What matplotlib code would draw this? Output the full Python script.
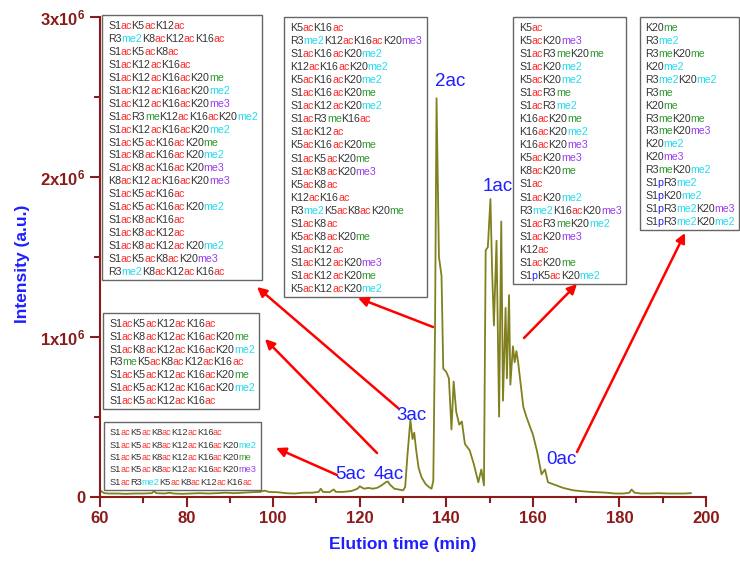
import re
import matplotlib
matplotlib.use('Agg')
import matplotlib.pyplot as plt
from matplotlib.patches import Rectangle
from matplotlib.ticker import MultipleLocator
from matplotlib.transforms import IdentityTransform

plt.rcParams['font.family'] = 'Liberation Sans'
plt.rcParams['mathtext.fontset'] = 'custom'
plt.rcParams['mathtext.rm'] = 'Liberation Sans:bold'
plt.rcParams['mathtext.it'] = 'Liberation Sans:bold'
plt.rcParams['mathtext.bf'] = 'Liberation Sans:bold'

# chromatogram (min, intensity x1e6)
elution_time = [60, 60.5, 61, 62, 64, 66, 68, 70, 72, 72.5, 73, 75, 76, 77, 79, 81, 83, 85, 87, 89,
                91, 93, 95, 97, 98, 99, 101, 103, 105, 107, 109, 110.5, 111, 111.5, 113, 114, 114.5,
                116, 118, 119.5, 120, 121, 122, 123, 124, 125, 126, 126.5, 127, 128, 129, 130, 130.5,
                131, 131.7, 132.2, 132.6, 133.0, 133.6, 134.3, 135.2, 136.0, 136.6, 137.0, 137.4,
                137.75, 138.3, 138.9, 139.3, 140.0, 140.6, 141.2, 141.7, 142.3, 143.0, 143.6, 144.3,
                145.4, 146.4, 147.4, 148.1, 148.7, 149.1, 149.6, 150.2, 150.6, 151.0, 151.6, 152.2,
                152.7, 153.1, 153.7, 154.0, 154.5, 154.8, 155.4, 155.8, 156.2, 156.6, 157.2, 157.8,
                158.5, 159.3, 160.0, 161.0, 162.0, 162.8, 163.5, 164.5, 165.5, 167, 169.3, 171, 173.2,
                175, 177, 179, 181, 182.3, 182.8, 183.5, 185, 187, 189, 191, 193, 195, 196.5]
intensity = [0.04, 0.03, 0.022, 0.02, 0.02, 0.018, 0.02, 0.02, 0.022, 0.035, 0.022, 0.02, 0.025, 0.02,
             0.018, 0.02, 0.022, 0.02, 0.022, 0.025, 0.022, 0.025, 0.028, 0.03, 0.038, 0.03, 0.028,
             0.022, 0.02, 0.025, 0.025, 0.03, 0.05, 0.03, 0.028, 0.045, 0.03, 0.03, 0.035, 0.05, 0.065,
             0.05, 0.055, 0.05, 0.055, 0.07, 0.09, 0.095, 0.075, 0.05, 0.045, 0.04, 0.06, 0.25, 0.48,
             0.36, 0.40, 0.30, 0.18, 0.12, 0.08, 0.06, 0.05, 0.1, 1.05, 2.49, 1.5, 1.38, 0.8, 0.78,
             0.74, 0.42, 0.72, 0.53, 0.45, 0.47, 0.33, 0.29, 0.2, 0.09, 0.17, 0.07, 1.54, 1.56, 1.86,
             1.4, 1.07, 1.6, 0.5, 1.72, 0.6, 1.18, 0.74, 1.26, 0.7, 0.94, 0.84, 0.91, 0.84, 0.7, 0.56,
             0.5, 0.44, 0.39, 0.28, 0.14, 0.17, 0.09, 0.08, 0.07, 0.055, 0.04, 0.035, 0.03, 0.028,
             0.025, 0.02, 0.02, 0.025, 0.045, 0.025, 0.02, 0.02, 0.022, 0.02, 0.02, 0.02, 0.022]

peak_names = ['5ac', '4ac', '3ac', '2ac', '1ac', '0ac']

forms_5ac = ['S1acK5acK8acK12acK16ac', 'S1acK5acK8acK12acK16acK20me2', 'S1acK5acK8acK12acK16acK20me',
             'S1acK5acK8acK12acK16acK20me3', 'S1acR3me2K5acK8acK12acK16ac']
forms_4ac = ['S1acK5acK12acK16ac', 'S1acK8acK12acK16acK20me', 'S1acK8acK12acK16acK20me2',
             'R3meK5acK8acK12acK16ac', 'S1acK5acK12acK16acK20me', 'S1acK5acK12acK16acK20me2',
             'S1acK5acK12acK16ac']
forms_3ac = ['S1acK5acK12ac', 'R3me2K8acK12acK16ac', 'S1acK5acK8ac', 'S1acK12acK16ac',
             'S1acK12acK16acK20me', 'S1acK12acK16acK20me2', 'S1acK12acK16acK20me3',
             'S1acR3meK12acK16acK20me2', 'S1acK12acK16acK20me2', 'S1acK5acK16acK20me',
             'S1acK8acK16acK20me2', 'S1acK8acK16acK20me3', 'K8acK12acK16acK20me3', 'S1acK5acK16ac',
             'S1acK5acK16acK20me2', 'S1acK8acK16ac', 'S1acK8acK12ac', 'S1acK8acK12acK20me2',
             'S1acK5acK8acK20me3', 'R3me2K8acK12acK16ac']
forms_2ac = ['K5acK16ac', 'R3me2K12acK16acK20me3', 'S1acK16acK20me2', 'K12acK16acK20me2',
             'K5acK16acK20me2', 'S1acK16acK20me', 'S1acK12acK20me2', 'S1acR3meK16ac', 'S1acK12ac',
             'K5acK16acK20me', 'S1acK5acK20me', 'S1acK8acK20me3', 'K5acK8ac', 'K12acK16ac',
             'R3me2K5acK8acK20me', 'S1acK8ac', 'K5acK8acK20me', 'S1acK12ac', 'S1acK12acK20me3',
             'S1acK12acK20me', 'K5acK12acK20me2']
forms_1ac = ['K5ac', 'K5acK20me3', 'S1acR3meK20me', 'S1acK20me2', 'K5acK20me2', 'S1acR3me',
             'S1acR3me2', 'K16acK20me', 'K16acK20me2', 'K16acK20me3', 'K5acK20me3', 'K8acK20me',
             'S1ac', 'S1acK20me2', 'R3me2K16acK20me3', 'S1acR3meK20me2', 'S1acK20me3', 'K12ac',
             'S1acK20me', 'S1pK5acK20me2']
forms_0ac = ['K20me', 'R3me2', 'R3meK20me', 'K20me2', 'R3me2K20me2', 'R3me', 'K20me', 'R3meK20me',
             'R3meK20me3', 'K20me2', 'K20me3', 'R3meK20me2', 'S1pR3me2', 'S1pK20me2',
             'S1pR3me2K20me3', 'S1pR3me2K20me2']

W, H = 740, 562
dark_red = '#8b1a1a'
blue = '#1f1fff'
base_col = '#333333'
mod_colors = {'ac': '#ff2a2a', 'me': '#2e9a2e', 'me2': '#22dcee', 'me3': '#9b3cf0', 'p': '#1f1fff'}
# Arial / Liberation Sans advance widths (per 1000 em)
adv_table = {'S': 667, 'K': 667, 'R': 722, 'a': 556, 'c': 500, 'm': 833, 'e': 556, 'p': 556}


def adv(s, size):
    em = size * 100 / 72
    return sum(adv_table.get(ch, 556) for ch in s) * em / 1000


fig = plt.figure(figsize=(W / 100, H / 100), dpi=100)
ax = fig.add_axes([100 / W, 65.3 / H, 606 / W, 480 / H])

ax.plot(elution_time, [v * 1e6 for v in intensity], color='#80801e', lw=1.3, zorder=2)

ax.set_xlim(60, 200)
ax.set_ylim(0, 3e6)
ax.set_xticks(range(60, 201, 20))
ax.xaxis.set_minor_locator(MultipleLocator(10))
ax.set_yticks([0, 1e6, 2e6, 3e6], labels=['0', '1x10$^6$', '2x10$^6$', '3x10$^6$'])
ax.yaxis.set_minor_locator(MultipleLocator(0.5e6))
ax.tick_params(which='major', direction='out', length=7, width=1.5, colors=dark_red, labelsize=12)
ax.tick_params(which='minor', direction='out', length=4, width=1.5, colors=dark_red)
for lab in ax.get_xticklabels() + ax.get_yticklabels():
    lab.set_fontweight('bold')
for s in ['top', 'right']:
    ax.spines[s].set_visible(False)
for s in ['left', 'bottom']:
    ax.spines[s].set_color(dark_red)
    ax.spines[s].set_linewidth(1.5)

ax.set_xlabel('Elution time (min)', color=blue, fontsize=12.5, fontweight='bold', labelpad=8)
ax.set_ylabel('Intensity (a.u.)', color=blue, fontsize=12.5, fontweight='bold')
ax.yaxis.set_label_coords(-0.115, 0.485)

# peak labels
label_x = [117.8, 126.6, 132.0, 140.8, 151.8, 166.7]
label_y = [0.141e6, 0.141e6, 0.51e6, 2.594e6, 1.94e6, 0.23e6]
for name, lx, ly in zip(peak_names, label_x, label_y):
    ax.text(lx, ly, name, color=blue, fontsize=13.5, ha='center', va='center')


def draw_box(lines, left, top, size, pitch, first_off=14, padl=6, padr=5, tight=0.4):
    widest = 0
    for i, line in enumerate(lines):
        yb = H - (top + first_off + i * pitch)
        x = left + padl
        for res, mod in re.findall(r'([A-Z]\d+)(ac|me3|me2|me|p)', line):
            for seg, col in ((res, base_col), (mod, mod_colors[mod])):
                ax.text(x, yb, seg, color=col, fontsize=size, ha='left', va='baseline',
                        transform=IdentityTransform(), clip_on=False, zorder=5)
                x += adv(seg, size) - tight
        widest = max(widest, x - left - padl)
    bottom = top + first_off + (len(lines) - 1) * pitch + 5
    ax.add_patch(Rectangle((left, H - bottom), widest + padl + padr, bottom - top,
                           transform=IdentityTransform(), facecolor='white', edgecolor='#666666',
                           lw=1, clip_on=False, zorder=4))


# (forms, left px, top px, font size, line pitch px)
draw_box(forms_3ac, 102, 15, 7.7, 12.95)
draw_box(forms_2ac, 284, 17, 7.7, 13.05)
draw_box(forms_1ac, 513, 17, 7.7, 13.04)
draw_box(forms_0ac, 640, 17, 7.55, 12.93, padl=5, padr=5)
draw_box(forms_4ac, 103, 313, 7.7, 12.8)
draw_box(forms_5ac, 104, 422, 6.7, 12.5, first_off=13)

# arrows (tail -> head), image pixel coords
arrows = [((433, 327), (358, 298)), ((398, 408), (257, 287)), ((377, 453), (265, 339)),
          ((337, 475), (276, 448)), ((524, 338), (577, 284)), ((577, 452), (685, 233))]
for (tx, ty), (hx, hy) in arrows:
    ax.annotate('', xy=(hx, H - hy), xytext=(tx, H - ty), xycoords='figure pixels',
                textcoords='figure pixels', annotation_clip=False, zorder=6,
                arrowprops=dict(arrowstyle='-|>', color='red', lw=1.8, mutation_scale=14,
                                shrinkA=0, shrinkB=0))

ax.set_xlim(60, 200)
ax.set_ylim(0, 3e6)
fig.savefig('out.png', dpi=100)
